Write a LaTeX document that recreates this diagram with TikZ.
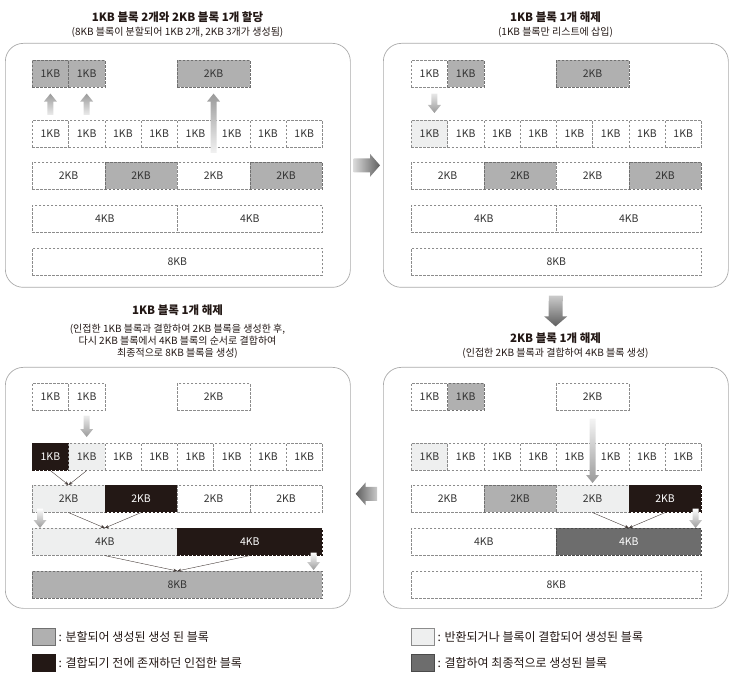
\documentclass[tikz,border=0pt]{standalone}
\usepackage{fontspec}
\setmainfont{Noto Sans CJK KR}
\usetikzlibrary{arrows.meta,positioning,calc}

\definecolor{ink}{HTML}{231815}
\definecolor{lineg}{HTML}{8C8C8C}
\definecolor{frameg}{HTML}{ABABAB}
\definecolor{arrg}{HTML}{9A9A9A}
\definecolor{bigg}{HTML}{5E5E5E}
% cell colours: fill (c), text (t), border (d)
\definecolor{cwht}{HTML}{FFFFFF}\definecolor{twht}{HTML}{333333}\definecolor{dwht}{HTML}{8C8C8C}
\definecolor{cmid}{HTML}{B0B0B0}\definecolor{tmid}{HTML}{333333}\definecolor{dmid}{HTML}{707070}
\definecolor{clit}{HTML}{EEEFEF}\definecolor{tlit}{HTML}{333333}\definecolor{dlit}{HTML}{8C8C8C}
\definecolor{cblk}{HTML}{231815}\definecolor{tblk}{HTML}{FFFFFF}\definecolor{dblk}{HTML}{231815}
\definecolor{cdrk}{HTML}{6D6D6D}\definecolor{tdrk}{HTML}{FFFFFF}\definecolor{ddrk}{HTML}{4A4A4A}

\tikzset{
  frame/.style={draw=frameg, line width=0.7pt, rounded corners=18pt, minimum width=345, anchor=north west, inner sep=0pt},
  ttl/.style={font=\fontsize{11.5}{13}\selectfont\bfseries, text=ink, inner sep=1pt},
  sub/.style={font=\fontsize{10}{12}\selectfont, text=ink, inner sep=1pt, align=center},
  cell/.style={draw=lineg, dash pattern=on 2.5pt off 1.5pt, line width=0.6pt, minimum height=27, inner sep=0pt, anchor=north west, font=\fontsize{10.5}{12}\selectfont},
  cf/.style={fill=c#1, text=t#1, draw=d#1},
  key/.style={line width=0.5pt, minimum width=23, minimum height=17, inner sep=0pt, anchor=north west},
  keytext/.style={font=\fontsize{12}{14}\selectfont, text=ink, inner sep=0pt},
  thinarr/.style={-{Stealth[length=4pt,width=3.2pt]}, line width=0.4pt, draw=ink!85},
  fatw/.store in=\fatw, fath/.store in=\fath, fatl/.store in=\fatl,
  g1/.store in=\fatga, g2/.store in=\fatgb,
  fatw=3pt, fath=6.5pt, fatl=8pt, g1=0pt, g2=0pt,
  fat/.style={to path={let \p1=(\tikztostart), \p2=(\tikztotarget),
      \n1={veclen(\x2-\x1,\y2-\y1)}, \n2={atan2(\y2-\y1,\x2-\x1)} in
      ([shift={(\p1)},rotate=\n2]\fatga,\fatw)
      -- ([shift={(\p1)},rotate=\n2]{\n1*1pt-\fatgb-\fatl},\fatw)
      -- ([shift={(\p1)},rotate=\n2]{\n1*1pt-\fatgb-\fatl},\fath)
      -- ([shift={(\p1)},rotate=\n2]{\n1*1pt-\fatgb},0pt)
      -- ([shift={(\p1)},rotate=\n2]{\n1*1pt-\fatgb-\fatl},-\fath)
      -- ([shift={(\p1)},rotate=\n2]{\n1*1pt-\fatgb-\fatl},-\fatw)
      -- ([shift={(\p1)},rotate=\n2]\fatga,-\fatw) -- cycle}},
  up/.style={fat, top color=arrg, bottom color=white},
  dn/.style={fat, top color=white, bottom color=arrg},
  big/.style={fat, fatw=7pt, fath=11.5pt, fatl=10pt},
}

% one panel of blocks: name, x, y, top 1KB, top 2KB, 1KB row, 2KB row, 4KB row, 8KB
\newcommand\drawblocks[9]{%
  \foreach \i/\f in {#4}
    \node (#1-t\i) [cell, cf=\f, minimum width=36.25] at ({#2+36.25*(\i-1)},#3) {1KB};
  \node (#1-t3) [cell, cf=#5, minimum width=72.5] at (#2+145,#3) {2KB};
  \foreach \i/\f in {#6}
    \node (#1-r1-\i) [cell, cf=\f, minimum width=36.25] at ({#2+36.25*(\i-1)},#3+60) {1KB};
  \foreach \i/\f in {#7}
    \node (#1-r2-\i) [cell, cf=\f, minimum width=72.5] at ({#2+72.5*(\i-1)},#3+102) {2KB};
  \foreach \i/\f in {#8}
    \node (#1-r4-\i) [cell, cf=\f, minimum width=145] at ({#2+145*(\i-1)},#3+145) {4KB};
  \node (#1-r8) [cell, cf=#9, minimum width=290] at (#2,#3+188) {8KB};
}

\begin{document}
\begin{tikzpicture}[x=1pt, y=-1pt]
    \useasboundingbox (0,0) rectangle (736,684);

    % frames
    \node (pa) [frame, minimum height=244] at (5,43) {};
    \node (pb) [frame, minimum height=244] at (383,43) {};
    \node (pc) [frame, minimum height=241] at (5,367) {};
    \node (pd) [frame, minimum height=241] at (383,367) {};

    % titles
    \node (ta) [ttl] at (177.5,17) {1KB 블록 2개와 2KB 블록 1개 할당};
    \node (sa) [sub, below=2.5pt of ta] {(8KB 블록이 분할되어 1KB 2개, 2KB 3개가 생성됨)};
    \node (tb) [ttl] at (555.5,17) {1KB 블록 1개 해제};
    \node (sb) [sub, below=2.5pt of tb] {(1KB 블록만 리스트에 삽입)};
    \node (tc) [ttl] at (177.5,310) {1KB 블록 1개 해제};
    \node (sc) [sub, below=6pt of tc] {(인접한 1KB 블록과 결합하여 2KB 블록을 생성한 후,\\
      다시 2KB 블록에서 4KB 블록의 순서로 결합하여\\ 최종적으로 8KB 블록을 생성)};
    \node (td) [ttl] at (555.5,338) {2KB 블록 1개 해제};
    \node (sd) [sub, below=2.5pt of td] {(인접한 2KB 블록과 결합하여 4KB 블록 생성)};

    % blocks
    \drawblocks{a}{32}{60}{1/mid,2/mid}{mid}{1/wht,2/wht,3/wht,4/wht,5/wht,6/wht,7/wht,8/wht}{1/wht,2/mid,3/wht,4/mid}{1/wht,2/wht}{wht}
    \drawblocks{b}{411}{60}{1/wht,2/mid}{mid}{1/lit,2/wht,3/wht,4/wht,5/wht,6/wht,7/wht,8/wht}{1/wht,2/mid,3/wht,4/mid}{1/wht,2/wht}{wht}
    \drawblocks{c}{32}{383}{1/wht,2/wht}{wht}{1/blk,2/lit,3/wht,4/wht,5/wht,6/wht,7/wht,8/wht}{1/lit,2/blk,3/wht,4/wht}{1/lit,2/blk}{mid}
    \drawblocks{d}{411}{383}{1/wht,2/mid}{wht}{1/lit,2/wht,3/wht,4/wht,5/wht,6/wht,7/wht,8/wht}{1/wht,2/mid,3/lit,4/blk}{1/wht,2/drk}{wht}

    % arrows in panels
    \path[up, g1=5pt, g2=6pt] (a-r1-1.north) to (a-t1.south);
    \path[up, g1=5pt, g2=6pt] (a-r1-2.north) to (a-t2.south);
    \path[up, g1=9pt, g2=6pt] (a-r2-3.north) to (a-t3.south);
    \path[dn, g1=6pt, g2=7pt] ([xshift=5pt]b-t1.south) to ([xshift=5pt]b-r1-1.north);
    \path[dn, g1=5pt, g2=6pt] (c-t2.south) to (c-r1-2.north);
    \path[dn, g1=-4pt, g2=0pt] ([xshift=8pt]c-r2-1.south west) to ([xshift=8pt]c-r4-1.north west);
    \path[dn, g1=-3pt, g2=1pt] ([xshift=-9pt]c-r4-2.south east) to ([xshift=-9pt]c-r8.north east);
    \path[dn, g1=8pt, g2=2pt] (d-t3.south) to (d-r2-3.north);
    \path[dn, g1=-4pt, g2=0pt] ([xshift=-6pt]d-r2-4.south east) to ([xshift=-6pt]d-r4-2.north east);

    \draw[thinarr] (c-r1-1.south) -- (c-r2-1.north);
    \draw[thinarr] (c-r1-2.south) -- (c-r2-1.north);
    \draw[thinarr] (c-r2-1.south) -- (c-r4-1.north);
    \draw[thinarr] (c-r2-2.south) -- (c-r4-1.north);
    \draw[thinarr] (c-r4-1.south) -- (c-r8.north);
    \draw[thinarr] (c-r4-2.south) -- (c-r8.north);
    \draw[thinarr] (d-r2-3.south) -- (d-r4-2.north);
    \draw[thinarr] (d-r2-4.south) -- (d-r4-2.north);

    % arrows between panels
    \path[big, g1=3pt, g2=3pt, left color=white!85!bigg, right color=bigg] (pa.east) to (pb.west);
    \path[big, g1=8pt, g2=5pt, top color=white!85!bigg, bottom color=bigg] (pb.south) to (td.north);
    \path[big, g1=6pt, g2=5pt, right color=white!85!bigg, left color=bigg] ([yshift=-6pt]pd.west) to ([yshift=-6pt]pc.east);

    % legend
    \node (k1) [key, cf=mid] at (32,628) {};
    \node [keytext, right=3pt of k1] {: 분할되어 생성된 생성 된 블록};
    \node (k2) [key, cf=blk] at (32,654) {};
    \node [keytext, right=3pt of k2] {: 결합되기 전에 존재하던 인접한 블록};
    \node (k3) [key, cf=lit] at (411,628) {};
    \node [keytext, right=3pt of k3] {: 반환되거나 블록이 결합되어 생성된 블록};
    \node (k4) [key, cf=drk] at (411,654) {};
    \node [keytext, right=3pt of k4] {: 결합하여 최종적으로 생성된 블록};

\end{tikzpicture}
\end{document}
